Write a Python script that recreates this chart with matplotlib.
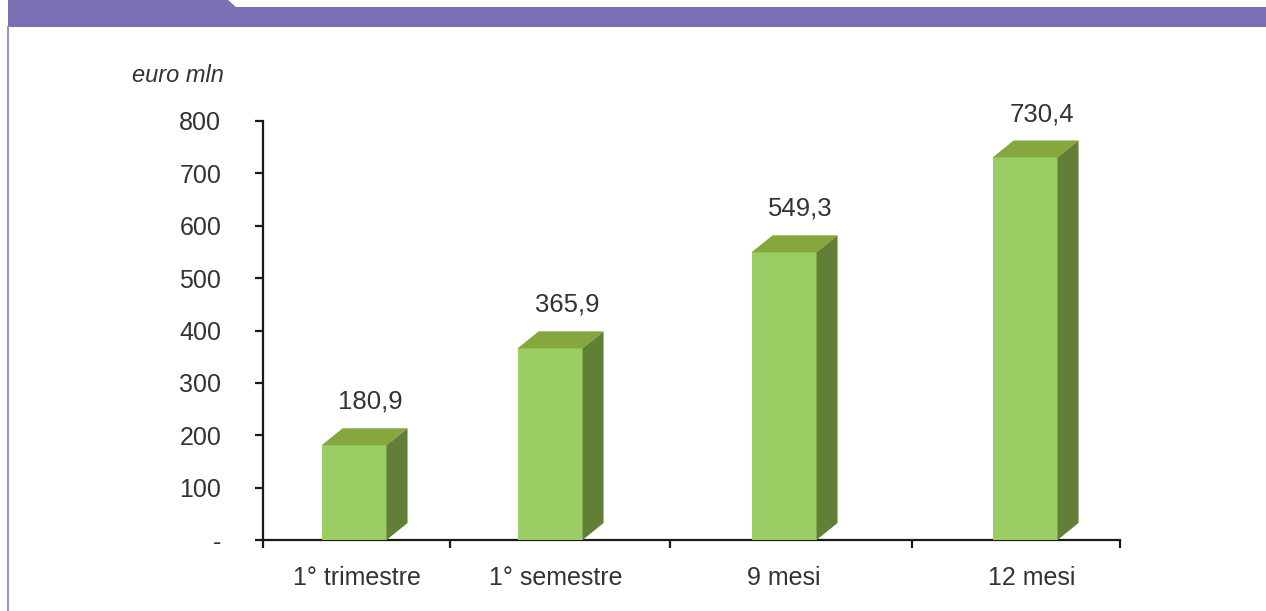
import matplotlib
matplotlib.use("Agg")
import matplotlib.pyplot as plt
from matplotlib.patches import Polygon

plt.rcParams['font.family'] = ['Liberation Sans', 'DejaVu Sans']

categories = ["1° trimestre", "1° semestre", "9 mesi", "12 mesi"]
values = [180.9, 365.9, 549.3, 730.4]
value_labels = ["180,9", "365,9", "549,3", "730,4"]
y_ticks = [0, 100, 200, 300, 400, 500, 600, 700, 800]
y_tick_labels = ["-", "100", "200", "300", "400", "500", "600", "700", "800"]
unit_label = "euro mln"

W, H = 1266, 611
purple = "#7b70b3"
front_c = "#9acd64"
top_c = "#86a63e"
side_c = "#627f38"
text_c = "#333333"

fig = plt.figure(figsize=(W / 100, H / 100), dpi=100)

# header band and left rule, in pixel coordinates
def px(x, y):
    return (x / W, 1 - y / H)

band = Polygon([px(8, 0), px(228, 0), px(236, 7), px(W, 7), px(W, 27), px(8, 27)],
               closed=True, transform=fig.transFigure, facecolor=purple,
               edgecolor="none")
fig.patches.append(band)
fig.add_artist(plt.Line2D([8 / W, 8 / W], [0, 1 - 27 / H], transform=fig.transFigure,
                          color="#9b93c8", lw=1.5))

ax_l, ax_r, ax_t, ax_b = 263, 1120, 121, 540
ax = fig.add_axes([ax_l / W, 1 - ax_b / H, (ax_r - ax_l) / W, (ax_b - ax_t) / H])
ax.set_xlim(0, 4)
ax.set_ylim(0, 800)

# category boundaries, bar and label positions along the x axis
cat_edges = [0, 0.873, 1.9, 3.029, 4]
bar_pos = [0.425, 1.34, 2.432, 3.557]
label_pos = [0.439, 1.368, 2.432, 3.589]

bar_w = 0.303
dx = 21 / (ax_r - ax_l) * 4
dy = 17 / (ax_b - ax_t) * 800

for c, v, lab in zip(bar_pos, values, value_labels):
    x0, x1 = c - bar_w / 2, c + bar_w / 2
    ax.add_patch(Polygon([(x0, 0), (x1, 0), (x1, v), (x0, v)], closed=True,
                         facecolor=front_c, edgecolor="none", zorder=3))
    ax.add_patch(Polygon([(x0, v), (x1, v), (x1 + dx, v + dy), (x0 + dx, v + dy)],
                         closed=True, facecolor=top_c, edgecolor="none", zorder=3))
    ax.add_patch(Polygon([(x1, 0), (x1 + dx, dy), (x1 + dx, v + dy), (x1, v)],
                         closed=True, facecolor=side_c, edgecolor="none", zorder=3))
    ax.annotate(lab, xy=(c, v + dy), xytext=(12, 19), textcoords="offset points",
                ha="center", va="center", fontsize=18.5, color=text_c, clip_on=False)

ax.spines["top"].set_visible(False)
ax.spines["right"].set_visible(False)
for s in ("left", "bottom"):
    ax.spines[s].set_linewidth(1.6)
    ax.spines[s].set_color("#1a1a1a")

ax.set_yticks(y_ticks)
ax.set_yticklabels(y_tick_labels)
ax.set_xticks(cat_edges)
ax.set_xticklabels([])
ax.set_xticks(label_pos, minor=True)
ax.set_xticklabels(categories, minor=True)
ax.tick_params(axis="x", which="major", length=6, width=1.6, color="#1a1a1a", direction="out")
ax.tick_params(axis="x", which="minor", length=0, pad=19, labelsize=18, labelcolor=text_c)
ax.tick_params(axis="y", length=6, width=1.6, color="#1a1a1a", pad=24,
               labelsize=18, labelcolor=text_c)

fig.text(224 / W, 1 - 75 / H, unit_label, ha="right", va="center", fontsize=17,
         style="italic", color=text_c)

fig.savefig("out.png", dpi=100)
